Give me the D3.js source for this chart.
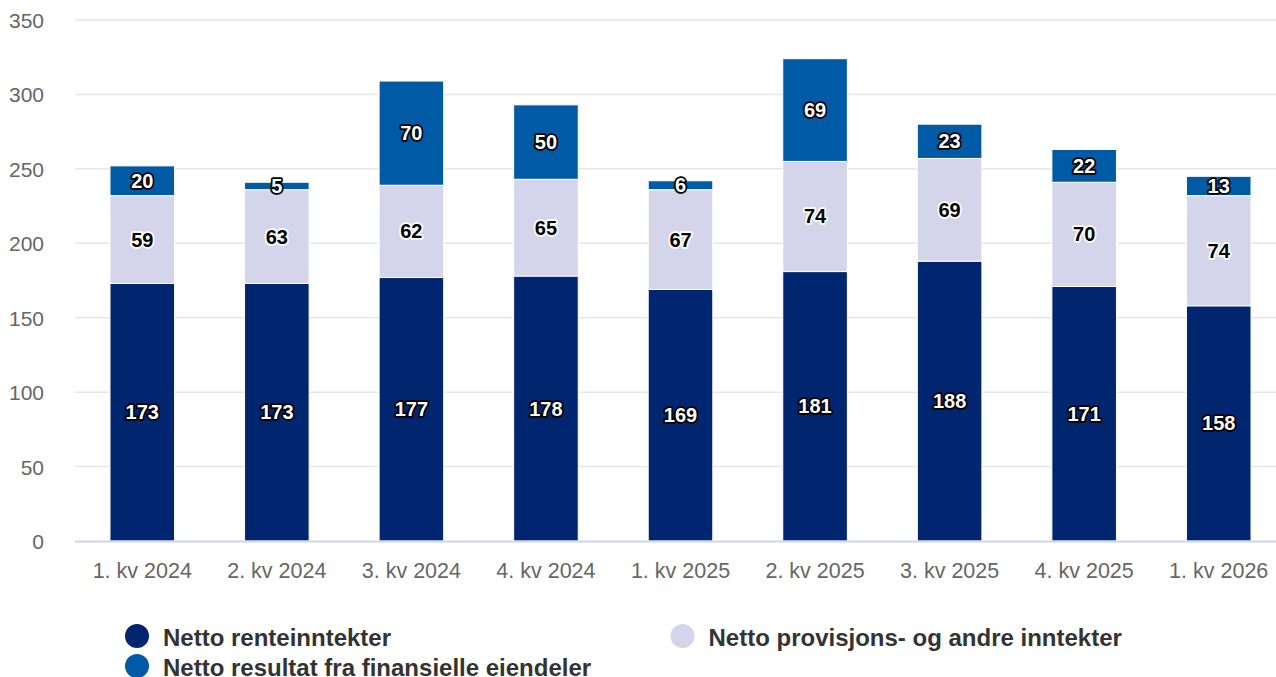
<!DOCTYPE html>
<html>
<head>
<meta charset="utf-8">
<script src="https://cdn.jsdelivr.net/npm/d3@7"></script>
<style>
  html, body { margin: 0; padding: 0; background: #fff; }
  svg { display: block; font-family: "Liberation Sans", Arial, sans-serif; }
</style>
</head>
<body>
<svg id="chart" width="1276" height="677"></svg>
<script>
const categories = ["1. kv 2024", "2. kv 2024", "3. kv 2024", "4. kv 2024", "1. kv 2025", "2. kv 2025", "3. kv 2025", "4. kv 2025", "1. kv 2026"];
const renteinntekter = [173, 173, 177, 178, 169, 181, 188, 171, 158];
const provisjoner = [59, 63, 62, 65, 67, 74, 69, 70, 74];
const finansielle = [20, 5, 70, 50, 6, 69, 23, 22, 13];
const seriesNames = ["Netto renteinntekter", "Netto provisjons- og andre inntekter", "Netto resultat fra finansielle eiendeler"];
const seriesColors = ["#00266f", "#d4d4ea", "#005aa5"];
const labelDark = [true, false, true];
const yTicks = [0, 50, 100, 150, 200, 250, 300, 350];

const svg = d3.select("#chart");
const plotLeft = 75, plotRight = 1286, plotTop = 20, plotBottom = 541;

const x = d3.scaleBand().domain(categories).range([plotLeft, plotRight]).paddingInner(0.52).paddingOuter(0.26);
const y = d3.scaleLinear().domain([0, 350]).range([plotBottom, plotTop]);

// gridlines
svg.append("g").selectAll("line").data(yTicks.filter(d => d > 0)).join("line")
  .attr("x1", plotLeft).attr("x2", 1276)
  .attr("y1", d => y(d)).attr("y2", d => y(d))
  .attr("stroke", "#e6e6e6").attr("stroke-width", 1.5);

// y labels
svg.append("g").selectAll("text").data(yTicks).join("text")
  .attr("x", 44).attr("y", d => y(d) + 8)
  .attr("text-anchor", "end")
  .attr("font-size", 21).attr("fill", "#666")
  .text(d => d);

// stack data
const rows = categories.map((c, i) => ({ cat: c, s0: renteinntekter[i], s1: provisjoner[i], s2: finansielle[i] }));
const stack = d3.stack().keys(["s0", "s1", "s2"]);
const stacked = stack(rows);

const bw = x.bandwidth();
stacked.forEach((layer, li) => {
  const g = svg.append("g");
  g.selectAll("rect").data(layer).join("rect")
    .attr("x", d => x(d.data.cat))
    .attr("width", bw)
    .attr("y", d => y(d[1]))
    .attr("height", d => y(d[0]) - y(d[1]))
    .attr("fill", seriesColors[li])
    .attr("stroke", "#fff").attr("stroke-width", 1);
});

// axis line
svg.append("line").attr("x1", plotLeft).attr("x2", 1276)
  .attr("y1", plotBottom + 0.5).attr("y2", plotBottom + 0.5)
  .attr("stroke", "#ccd6eb").attr("stroke-width", 2);

// data labels
stacked.forEach((layer, li) => {
  const g = svg.append("g");
  g.selectAll("text").data(layer).join("text")
    .attr("x", d => x(d.data.cat) + bw / 2)
    .attr("y", d => (y(d[0]) + y(d[1])) / 2 + 7)
    .attr("text-anchor", "middle")
    .attr("font-size", 20).attr("font-weight", "bold")
    .attr("fill", labelDark[li] ? "#fff" : "#000")
    .attr("stroke", labelDark[li] ? "#000" : "#fff")
    .attr("stroke-width", 3.5).attr("stroke-linejoin", "round")
    .attr("paint-order", "stroke")
    .text(d => d[1] - d[0]);
});

// x labels
svg.append("g").selectAll("text").data(categories).join("text")
  .attr("x", d => x(d) + bw / 2).attr("y", 578)
  .attr("text-anchor", "middle")
  .attr("font-size", 21.5).attr("fill", "#666")
  .text(d => d);

// legend
const legendPos = [[137, 636], [682.5, 636], [137, 666]];
const lg = svg.append("g");
seriesNames.forEach((n, i) => {
  const [cx, cy] = legendPos[i];
  lg.append("circle").attr("cx", cx).attr("cy", cy).attr("r", 12).attr("fill", seriesColors[i]);
  lg.append("text").attr("x", cx + 26).attr("y", cy + 10)
    .attr("font-size", 24).attr("font-weight", "bold").attr("fill", "#333")
    .text(n);
});
</script>
</body>
</html>
